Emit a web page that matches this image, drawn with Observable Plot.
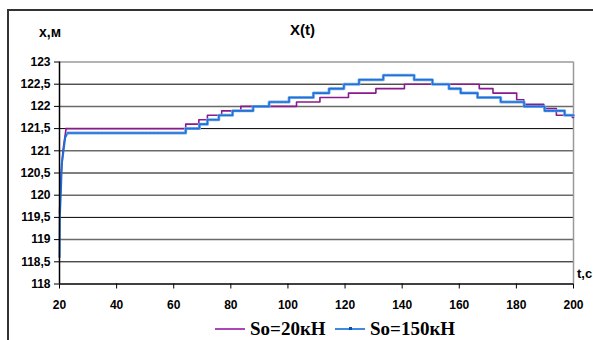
<!DOCTYPE html>
<html>
<head>
<meta charset="utf-8">
<script src="https://cdn.jsdelivr.net/npm/d3@7"></script>
<script src="https://cdn.jsdelivr.net/npm/@observablehq/plot@0.6"></script>
<style>
  html, body { margin: 0; padding: 0; background: #fff; }
  #wrap { position: relative; width: 593px; height: 340px; overflow: hidden; font-family: 'Liberation Sans', Arial, sans-serif; }
  #wrap svg { position: absolute; left: 0; top: 0; }
  .lbl { position: absolute; font-weight: bold; color: #000; white-space: nowrap; }
  .frame { position: absolute; left: 7px; top: 9px; width: 700px; height: 400px; border-left: 2px solid #333; border-top: 2px solid #333; }
  .sw { position: absolute; height: 2px; }
  .lg { position: absolute; font-family: 'Liberation Serif', 'Times New Roman', serif; font-weight: bold; font-size: 19px; line-height: 19px; color: #000; white-space: nowrap; }
</style>
</head>
<body>
<div id="wrap"></div>
<script>
// Series So=20кН (purple)
const purpleRampT = [20, 20.5, 21.2, 22.3];
const purpleRampX = [119.6, 120.4, 121.0, 121.5];
const purpleStepT = [22.3, 64.2, 68.8, 71.8, 76.8, 83.5, 103.0, 111.2, 121.2, 130.8, 140.8, 167.0, 171.8, 180.1, 182.6, 189.6, 194.0, 199.6, 200];
const purpleStepX = [121.5, 121.6, 121.7, 121.8, 121.9, 122.0, 122.1, 122.2, 122.3, 122.4, 122.5, 122.4, 122.3, 122.15, 122.05, 121.95, 121.8, 121.75, 121.75];

// Series So=150кН (blue)
const blueRampT = [20, 20.1, 20.5, 20.8, 21.4, 22.0, 22.8];
const blueRampX = [118.6, 119.5, 120.1, 120.7, 121.0, 121.3, 121.4];
const blueStepT = [22.8, 64.2, 69.0, 71.8, 75.8, 80.6, 87.8, 93.4, 100.4, 108.9, 114.4, 119.6, 124.9, 133.4, 144.2, 150.6, 156.4, 160.5, 166.4, 174.5, 182.7, 189.9, 196.9, 200];
const blueStepX = [121.4, 121.5, 121.6, 121.7, 121.8, 121.9, 122.0, 122.1, 122.2, 122.3, 122.4, 122.5, 122.6, 122.7, 122.6, 122.5, 122.4, 122.3, 122.2, 122.1, 122.0, 121.9, 121.8, 121.8];

// Ticks
const xTickValues = [20, 40, 60, 80, 100, 120, 140, 160, 180, 200];
const yTickValues = [118, 118.5, 119, 119.5, 120, 120.5, 121, 121.5, 122, 122.5, 123];

// Labels
const titleText = "X(t)";
const yAxisTitle = "x,м";
const xAxisTitle = "t,c";
const seriesNames = ["So=20кН", "So=150кН"];

const zip = (t, x) => t.map((v, i) => ({t: v, x: x[i]}));
const pRamp = zip(purpleRampT, purpleRampX);
const pStep = zip(purpleStepT, purpleStepX);
const bRamp = zip(blueRampT, blueRampX);
const bStep = zip(blueStepT, blueStepX);

const PURPLE = "#8a1a8e";
const BLUE = "#1f6fd6";
const BLUE_DARK = "#0a4cb8";

const chart = Plot.plot({
  width: 593,
  height: 340,
  marginLeft: 59,
  marginRight: 20,
  marginTop: 61.5,
  marginBottom: 56.5,
  style: { fontFamily: "'Liberation Sans', Arial, sans-serif", fontSize: "12px", fontWeight: "bold", color: "#000", background: "transparent", overflow: "visible" },
  x: { domain: [20, 200] },
  y: { domain: [118, 123] },
  marks: [
    Plot.ruleY(yTickValues.filter(v => v > 118 && v < 123 && v % 1 !== 0), { stroke: "#000", strokeWidth: 1 }),
    Plot.ruleY(yTickValues.filter(v => v > 118 && v < 123 && v % 1 === 0), { stroke: "#6a6a6a", strokeWidth: 1.5 }),
    Plot.ruleY([123], { stroke: "#9a9a9a", strokeWidth: 1.5 }),
    Plot.ruleX([200], { stroke: "#9a9a9a", strokeWidth: 1.5 }),
    Plot.line(pRamp, { x: "t", y: "x", stroke: PURPLE, strokeWidth: 1.6 }),
    Plot.line(pStep, { x: "t", y: "x", stroke: PURPLE, strokeWidth: 1.6, curve: "step-after" }),
    Plot.line(bRamp, { x: "t", y: "x", stroke: BLUE, strokeWidth: 2 }),
    Plot.line(bStep, { x: "t", y: "x", stroke: "#7ab0ee", strokeWidth: 3, curve: "step-after" }),
    Plot.line(bStep, { x: "t", y: "x", stroke: BLUE, strokeWidth: 1.6, curve: "step-after", strokeDasharray: "2.5,1.2" }),
    Plot.ruleX([20], { stroke: "#000", strokeWidth: 1.5 }),
    Plot.ruleY([118], { stroke: "#000", strokeWidth: 1.5 }),
    Plot.axisY({ ticks: yTickValues, tickSize: 5, tickPadding: 4, tickFormat: d => String(d).replace(".", ","), label: null }),
    Plot.axisX({ ticks: xTickValues, tickSize: 5, tickPadding: 11, tickFormat: d => String(d), label: null })
  ]
});

const wrap = document.getElementById("wrap");
wrap.appendChild(chart);

function addLabel(text, left, top, size) {
  const d = document.createElement("div");
  d.className = "lbl";
  d.textContent = text;
  d.style.left = left + "px";
  d.style.top = top + "px";
  d.style.fontSize = size + "px";
  d.style.lineHeight = size + "px";
  wrap.appendChild(d);
}
const frame = document.createElement("div");
frame.className = "frame";
wrap.appendChild(frame);

addLabel(titleText, 290, 22, 15);
addLabel(yAxisTitle, 39, 25, 14);
addLabel(xAxisTitle, 577, 266.5, 13);

// Legend
function addSwatch(left, color, marker) {
  const s = document.createElement("div");
  s.className = "sw";
  s.style.left = left + "px";
  s.style.top = "328px";
  s.style.width = "30px";
  s.style.background = color;
  wrap.appendChild(s);
  if (marker) {
    const m = document.createElement("div");
    m.style.position = "absolute";
    m.style.left = (left + 14) + "px";
    m.style.top = "327px";
    m.style.width = "3px";
    m.style.height = "3px";
    m.style.background = BLUE_DARK;
    wrap.appendChild(m);
  }
}
function addLegendText(text, left) {
  const d = document.createElement("div");
  d.className = "lg";
  d.textContent = text;
  d.style.left = left + "px";
  d.style.top = "319px";
  wrap.appendChild(d);
}
addSwatch(215, "#a848b4", false);
addLegendText(seriesNames[0], 250);
addSwatch(335, "#3d8ae0", true);
addLegendText(seriesNames[1], 370);
</script>
</body>
</html>
